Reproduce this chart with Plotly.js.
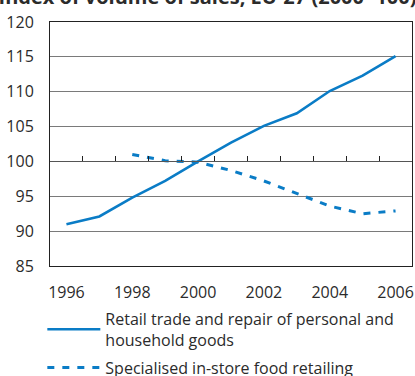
<!DOCTYPE html>
<html><head><meta charset="utf-8">
<script src="https://cdn.plot.ly/plotly-3.0.1.min.js"></script>
<style>html,body{margin:0;padding:0;background:#fff}#chart{width:415px;height:376px}</style>
</head><body><div id="chart"></div>
<script>
const titleText = "Index of volume of sales, EU-27 (2000=100)";
const years = [1996, 1997, 1998, 1999, 2000, 2001, 2002, 2003, 2004, 2005, 2006];
const retailName = "Retail trade and repair of personal and<br>household goods";
const retailValues = [91.0, 92.1, 94.8, 97.2, 100.0, 102.7, 105.1, 106.9, 110.1, 112.3, 115.1];
const foodYears = [1998, 1999, 2000, 2001, 2002, 2003, 2004, 2005, 2006];
const foodName = "Specialised in-store food retailing";
const foodValues = [101.0, 100.1, 99.9, 98.7, 97.2, 95.4, 93.6, 92.5, 92.9];
const xTickVals = [1996, 1998, 2000, 2002, 2004, 2006];
const midTicks = [1996.5, 1997.5, 1998.5, 1999.5, 2000.5, 2001.5, 2002.5, 2003.5, 2004.5, 2005.5];
const yTickVals = [85, 90, 95, 100, 105, 110, 115, 120];
const yMin = 85, yMax = 120, yBase = 100;
const xRange = [1995.5, 2006.5];

const blue = "#0a7cc6";
const font = {family: "Open Sans, Noto Sans, sans-serif", size: 16, color: "#2b2b2b"};

const traces = [
  {x: years, y: retailValues, name: retailName, type: "scatter", mode: "lines", legendgroup: "a",
   line: {color: blue, width: 2.6}},
  {x: foodYears, y: foodValues, name: foodName, type: "scatter", mode: "lines", legendgroup: "b",
   line: {color: blue, width: 3, dash: "7px,8px"}},
  {x: [], y: [], xaxis: "x2", yaxis: "y2", type: "scatter", mode: "lines", showlegend: false, hoverinfo: "skip"}
];

const baseFrac = (yBase - yMin) / (yMax - yMin);

const layout = {
  width: 415, height: 376,
  margin: {l: 50, r: 3, t: 22, b: 110, autoexpand: false},
  paper_bgcolor: "#fff", plot_bgcolor: "rgba(0,0,0,0)",
  font: font,
  showlegend: true,
  title: {text: "<b>" + titleText + "</b>", font: {family: font.family, size: 20, color: "#2b2b2b"},
          xref: "container", yref: "container", x: 0.5, xanchor: "center", y: 0.989, yanchor: "bottom",
          automargin: false},
  xaxis: {range: xRange, tickvals: xTickVals, ticks: "", showgrid: false,
          showline: true, linecolor: "#222", linewidth: 1, mirror: true,
          ticklabelstandoff: 12, zeroline: false, fixedrange: true, domain: [0, 1], automargin: false},
  yaxis: {range: [yMin, yMax], tickvals: yTickVals, ticks: "", showgrid: true, gridcolor: "#7a7a7a",
          gridwidth: 1, showline: true, linecolor: "#222", linewidth: 1, mirror: true,
          ticklabelstandoff: 12, zeroline: false, fixedrange: true, domain: [0, 1], automargin: false},
  xaxis2: {anchor: "y2", domain: [0, 1], range: xRange, tickvals: midTicks, ticks: "inside",
           ticklen: 5, tickwidth: 1, tickcolor: "#222", showticklabels: false,
           showline: true, linecolor: "#555", linewidth: 1, showgrid: false, zeroline: false, side: "bottom"},
  yaxis2: {anchor: "x2", domain: [baseFrac, 1], range: [yBase, yMax], visible: false,
           showgrid: false, zeroline: false},
  legend: {xref: "container", yref: "container", x: 0.102, y: 0.197, xanchor: "left", yanchor: "top",
           orientation: "v", itemwidth: 53, font: font, bgcolor: "rgba(0,0,0,0)",
           tracegroupgap: 4, traceorder: "grouped"}
};

Plotly.newPlot("chart", traces, layout, {displayModeBar: false, staticPlot: true});
</script></body></html>
